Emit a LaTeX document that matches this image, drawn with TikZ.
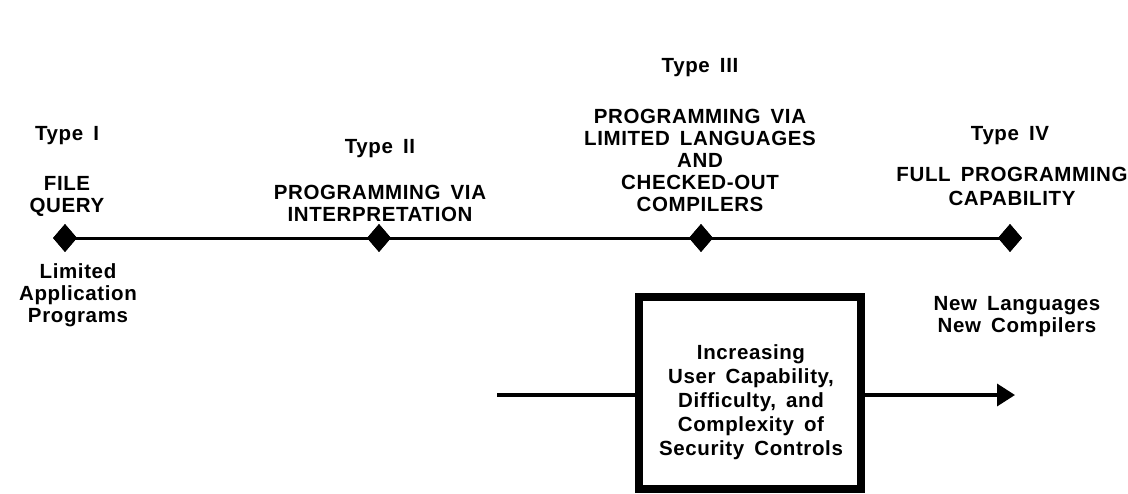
\documentclass[tikz,border=0pt]{standalone}
\usepackage{fontspec}
\setmainfont{Liberation Sans}[LetterSpace=3,WordSpace=1.6]
\usetikzlibrary{shapes.geometric,arrows.meta}
\begin{document}
\begin{tikzpicture}[x=1pt,y=-1pt,
  lbl/.style={font=\fontsize{20.5}{22}\selectfont\bfseries, align=center, inner sep=0pt},
  lblw/.style={lbl, font=\fontsize{20.5}{24}\selectfont\bfseries},
  dia/.style={diamond, fill=black, minimum width=24pt, minimum height=28pt, inner sep=0pt},
  axis/.style={line width=3pt},
  bigbox/.style={draw, line width=8pt, minimum width=222pt, minimum height=192pt, inner sep=0pt},
  flow/.style={line width=3.5pt}
]
\useasboundingbox (0,0) rectangle (1128,493);
% axis and diamonds
\node[dia] (d1) at (65,238) {};
\node[dia] (d2) at (379,238) {};
\node[dia] (d3) at (701,238) {};
\node[dia] (d4) at (1010,238) {};
\draw[axis] (d1.center) -- (d4.center);
\foreach \n in {d1,d2,d3,d4} \node[dia] at (\n) {};
% Type I
\node[lbl] (t1) at (67,136) {Type I};
\node[lbl] (n1) at (67,196) {FILE\\QUERY};
\node[lbl] (b1) at (78,295) {Limited\\Application\\Programs};
% Type II
\node[lbl] (t2) at (380,149) {Type II};
\node[lbl] (n2) at (380,203) {PROGRAMMING VIA\\INTERPRETATION};
% Type III
\node[lbl] (t3) at (700,68) {Type III};
\node[lbl] (n3) at (700,160) {PROGRAMMING VIA\\LIMITED LANGUAGES\\AND\\CHECKED-OUT\\COMPILERS};
% Type IV
\node[lbl] (t4) at (1010,136) {Type IV};
\node[lblw] (n4) at (1012,186) {FULL PROGRAMMING\\CAPABILITY};
\node[lbl] (b4) at (1017,317) {New Languages\\New Compilers};
% box
\node[bigbox] (box) at (750,393) {};
\node[lblw] (boxt) at (751,402) {Increasing\\User Capability,\\Difficulty, and\\Complexity of\\Security Controls};
\coordinate (ls) at (497,395);
\coordinate (ae) at (1015,395);
\draw[flow] (ls) -- ([yshift=-2pt]box.west);
\draw[flow, -{Triangle[length=18pt,width=22pt]}] ([yshift=-2pt]box.east) -- (ae);
\end{tikzpicture}
\end{document}
